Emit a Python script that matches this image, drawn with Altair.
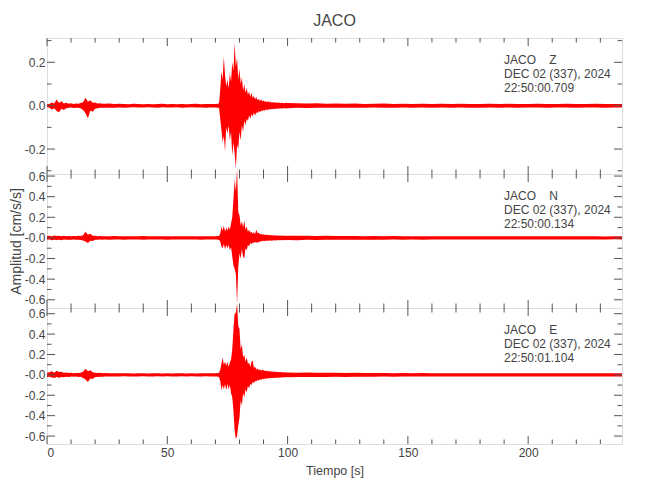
import altair as alt
import pandas as pd

# ---------------- data ----------------
T_QUIET = list(range(0, 24)) + list(range(24, 70, 2))   # 0..68 s
T_EVENT = [70 + 0.5 * i for i in range(60)]              # 70..99.5 s
T_TAIL = list(range(100, 240, 4)) + [239]                # 100..239 s
TIME = T_QUIET + T_EVENT + T_TAIL

# ---- Z component envelope (upper / lower), cm/s/s
Z_UP_Q = [0.006, 0.008, 0.015, 0.010, 0.028, 0.012, 0.020, 0.010, 0.014, 0.009,
          0.011, 0.008, 0.010, 0.009, 0.012, 0.016, 0.036, 0.018, 0.025, 0.013,
          0.015, 0.010, 0.011, 0.009,
          0.009, 0.010, 0.008, 0.009, 0.008, 0.007, 0.009, 0.008, 0.007, 0.008,
          0.007, 0.008, 0.009, 0.007, 0.008, 0.007, 0.008, 0.007, 0.008, 0.009,
          0.007, 0.008, 0.008]
Z_LO_Q = [-0.006, -0.009, -0.018, -0.012, -0.025, -0.030, -0.014, -0.020, -0.012, -0.010,
          -0.008, -0.011, -0.009, -0.010, -0.012, -0.020, -0.035, -0.058, -0.022, -0.028,
          -0.014, -0.012, -0.009, -0.010,
          -0.010, -0.009, -0.009, -0.008, -0.009, -0.008, -0.007, -0.008, -0.008, -0.007,
          -0.008, -0.009, -0.007, -0.008, -0.008, -0.007, -0.009, -0.008, -0.007, -0.008,
          -0.008, -0.009, -0.008]
Z_UP_E = [0.008, 0.009, 0.008, 0.012, 0.070, 0.160, 0.120, 0.225, 0.140, 0.090,
          0.120, 0.080, 0.150, 0.110, 0.200, 0.160, 0.290, 0.180, 0.220, 0.120,
          0.170, 0.100, 0.130, 0.070, 0.100, 0.060, 0.080, 0.050, 0.065, 0.040,
          0.060, 0.035, 0.045, 0.030, 0.040, 0.025, 0.032, 0.022, 0.028, 0.020,
          0.024, 0.018, 0.020, 0.016, 0.022, 0.015, 0.018, 0.014, 0.017, 0.013,
          0.016, 0.012, 0.015, 0.013, 0.012, 0.014, 0.012, 0.011, 0.013, 0.012]
Z_LO_E = [-0.008, -0.009, -0.008, -0.012, -0.060, -0.110, -0.170, -0.140, -0.210, -0.100,
          -0.130, -0.090, -0.160, -0.120, -0.230, -0.170, -0.220, -0.290, -0.180, -0.200,
          -0.120, -0.160, -0.090, -0.120, -0.070, -0.090, -0.060, -0.070, -0.045, -0.060,
          -0.040, -0.050, -0.032, -0.045, -0.030, -0.035, -0.025, -0.030, -0.022, -0.026,
          -0.020, -0.023, -0.017, -0.021, -0.016, -0.019, -0.015, -0.017, -0.014, -0.016,
          -0.013, -0.015, -0.012, -0.014, -0.013, -0.012, -0.014, -0.011, -0.012, -0.013]
Z_UP_T = [0.012, 0.011, 0.010, 0.011, 0.009, 0.010, 0.009, 0.010, 0.008, 0.009,
          0.010, 0.008, 0.009, 0.008, 0.009, 0.008, 0.009, 0.008, 0.009, 0.008,
          0.008, 0.009, 0.008, 0.009, 0.008, 0.008, 0.009, 0.008, 0.008, 0.009,
          0.008, 0.008, 0.009, 0.008, 0.008, 0.008]
Z_LO_T = [-0.012, -0.010, -0.011, -0.010, -0.010, -0.009, -0.010, -0.009, -0.009, -0.008,
          -0.009, -0.009, -0.008, -0.009, -0.008, -0.009, -0.008, -0.009, -0.008, -0.009,
          -0.009, -0.008, -0.009, -0.008, -0.009, -0.008, -0.008, -0.009, -0.008, -0.008,
          -0.009, -0.008, -0.008, -0.009, -0.008, -0.008]

# ---- N component envelope
N_UP_Q = [0.018, 0.022, 0.016, 0.024, 0.018, 0.021, 0.017, 0.020, 0.016, 0.019,
          0.017, 0.018, 0.016, 0.020, 0.018, 0.025, 0.060, 0.030, 0.040, 0.022,
          0.020, 0.017, 0.019, 0.016,
          0.017, 0.016, 0.018, 0.015, 0.016, 0.017, 0.015, 0.016, 0.018, 0.015,
          0.016, 0.015, 0.017, 0.015, 0.016, 0.015, 0.016, 0.017, 0.015, 0.016,
          0.015, 0.016, 0.017]
N_LO_Q = [-0.018, -0.016, -0.022, -0.018, -0.021, -0.017, -0.022, -0.016, -0.019, -0.017,
          -0.018, -0.016, -0.019, -0.017, -0.020, -0.025, -0.035, -0.050, -0.028, -0.030,
          -0.019, -0.018, -0.016, -0.018,
          -0.016, -0.017, -0.015, -0.016, -0.018, -0.015, -0.016, -0.015, -0.017, -0.016,
          -0.015, -0.016, -0.015, -0.017, -0.015, -0.016, -0.015, -0.016, -0.016, -0.015,
          -0.017, -0.015, -0.016]
N_UP_E = [0.016, 0.018, 0.015, 0.022, 0.040, 0.110, 0.070, 0.120, 0.060, 0.100,
          0.070, 0.110, 0.080, 0.140, 0.200, 0.380, 0.570, 0.450, 0.670, 0.250,
          0.220, 0.120, 0.160, 0.100, 0.170, 0.080, 0.110, 0.060, 0.080, 0.050,
          0.060, 0.040, 0.055, 0.038, 0.080, 0.045, 0.050, 0.035, 0.040, 0.030,
          0.035, 0.028, 0.032, 0.026, 0.030, 0.025, 0.029, 0.024, 0.027, 0.023,
          0.026, 0.022, 0.025, 0.021, 0.024, 0.022, 0.023, 0.020, 0.022, 0.021]
N_LO_E = [-0.016, -0.015, -0.019, -0.020, -0.035, -0.080, -0.100, -0.060, -0.110, -0.070,
          -0.100, -0.070, -0.120, -0.090, -0.180, -0.270, -0.300, -0.350, -0.640, -0.280,
          -0.150, -0.200, -0.110, -0.180, -0.200, -0.100, -0.120, -0.070, -0.080, -0.050,
          -0.060, -0.045, -0.050, -0.038, -0.050, -0.040, -0.045, -0.032, -0.036, -0.030,
          -0.028, -0.032, -0.026, -0.030, -0.025, -0.028, -0.024, -0.027, -0.023, -0.025,
          -0.022, -0.025, -0.021, -0.023, -0.022, -0.020, -0.023, -0.021, -0.020, -0.022]
N_UP_T = [0.022, 0.021, 0.020, 0.019, 0.020, 0.018, 0.019, 0.018, 0.017, 0.018,
          0.017, 0.018, 0.016, 0.017, 0.016, 0.017, 0.016, 0.015, 0.016, 0.017,
          0.015, 0.016, 0.015, 0.016, 0.015, 0.016, 0.015, 0.016, 0.015, 0.016,
          0.015, 0.016, 0.015, 0.014, 0.015, 0.015]
N_LO_T = [-0.021, -0.022, -0.019, -0.020, -0.018, -0.019, -0.018, -0.017, -0.018, -0.017,
          -0.018, -0.016, -0.017, -0.016, -0.017, -0.016, -0.015, -0.016, -0.016, -0.015,
          -0.016, -0.015, -0.016, -0.015, -0.016, -0.015, -0.016, -0.015, -0.015, -0.016,
          -0.015, -0.015, -0.016, -0.015, -0.014, -0.015]

# ---- E component envelope
E_UP_Q = [0.020, 0.025, 0.035, 0.022, 0.040, 0.028, 0.030, 0.020, 0.024, 0.018,
          0.020, 0.017, 0.019, 0.018, 0.022, 0.030, 0.060, 0.035, 0.045, 0.025,
          0.022, 0.019, 0.020, 0.017,
          0.018, 0.016, 0.017, 0.015, 0.016, 0.015, 0.014, 0.016, 0.015, 0.014,
          0.015, 0.016, 0.014, 0.015, 0.014, 0.015, 0.016, 0.014, 0.015, 0.014,
          0.015, 0.016, 0.015]
E_LO_Q = [-0.020, -0.018, -0.025, -0.030, -0.022, -0.028, -0.020, -0.024, -0.018, -0.020,
          -0.017, -0.019, -0.016, -0.020, -0.018, -0.030, -0.045, -0.070, -0.035, -0.040,
          -0.022, -0.020, -0.018, -0.019,
          -0.017, -0.016, -0.015, -0.016, -0.014, -0.015, -0.016, -0.015, -0.014, -0.015,
          -0.016, -0.014, -0.015, -0.014, -0.015, -0.016, -0.014, -0.015, -0.014, -0.015,
          -0.016, -0.014, -0.015]
E_UP_E = [0.015, 0.018, 0.016, 0.022, 0.050, 0.110, 0.170, 0.100, 0.130, 0.090,
          0.130, 0.080, 0.120, 0.150, 0.250, 0.450, 0.600, 0.610, 0.700, 0.480,
          0.450, 0.250, 0.300, 0.170, 0.200, 0.130, 0.170, 0.110, 0.120, 0.080,
          0.130, 0.140, 0.070, 0.080, 0.050, 0.065, 0.045, 0.055, 0.040, 0.050,
          0.045, 0.038, 0.042, 0.034, 0.040, 0.032, 0.036, 0.030, 0.034, 0.028,
          0.032, 0.027, 0.030, 0.026, 0.029, 0.025, 0.027, 0.024, 0.026, 0.023]
E_LO_E = [-0.015, -0.016, -0.018, -0.020, -0.060, -0.150, -0.100, -0.140, -0.090, -0.150,
          -0.090, -0.140, -0.100, -0.180, -0.220, -0.350, -0.550, -0.630, -0.600, -0.500,
          -0.420, -0.250, -0.300, -0.180, -0.220, -0.140, -0.170, -0.110, -0.130, -0.090,
          -0.100, -0.070, -0.080, -0.060, -0.065, -0.050, -0.055, -0.042, -0.050, -0.038,
          -0.042, -0.035, -0.038, -0.032, -0.036, -0.030, -0.034, -0.029, -0.032, -0.028,
          -0.029, -0.027, -0.028, -0.025, -0.027, -0.024, -0.026, -0.023, -0.024, -0.022]
E_UP_T = [0.024, 0.022, 0.023, 0.021, 0.020, 0.021, 0.019, 0.020, 0.018, 0.019,
          0.018, 0.017, 0.018, 0.017, 0.018, 0.016, 0.017, 0.016, 0.017, 0.016,
          0.016, 0.017, 0.016, 0.015, 0.016, 0.017, 0.016, 0.015, 0.016, 0.016,
          0.015, 0.016, 0.015, 0.016, 0.015, 0.016]
E_LO_T = [-0.023, -0.022, -0.021, -0.022, -0.020, -0.019, -0.020, -0.018, -0.019, -0.018,
          -0.017, -0.018, -0.017, -0.016, -0.017, -0.016, -0.017, -0.016, -0.015, -0.016,
          -0.017, -0.016, -0.015, -0.016, -0.016, -0.015, -0.016, -0.015, -0.016, -0.015,
          -0.016, -0.015, -0.016, -0.015, -0.016, -0.015]

Z_UP, Z_LO = Z_UP_Q + Z_UP_E + Z_UP_T, Z_LO_Q + Z_LO_E + Z_LO_T
N_UP, N_LO = N_UP_Q + N_UP_E + N_UP_T, N_LO_Q + N_LO_E + N_LO_T
E_UP, E_LO = E_UP_Q + E_UP_E + E_UP_T, E_LO_Q + E_LO_E + E_LO_T

NB = "\u00a0"
LABEL_Z = "JACO" + NB * 4 + "Z\nDEC 02 (337), 2024\n22:50:00.709"
LABEL_N = "JACO" + NB * 4 + "N\nDEC 02 (337), 2024\n22:50:00.134"
LABEL_E = "JACO" + NB * 4 + "E\nDEC 02 (337), 2024\n22:50:01.104"

X_MAJOR = [0, 50, 100, 150, 200]
X_MINOR = [10, 20, 30, 40, 60, 70, 80, 90, 110, 120, 130, 140, 160, 170, 180, 190, 210, 220, 230]
YZ_MAJOR = [-0.2, 0.0, 0.2]
YZ_MINOR = [-0.3, -0.1, 0.1, 0.3]
Y6_MAJOR = [-0.6, -0.4, -0.2, 0.0, 0.2, 0.4, 0.6]
Y6_MINOR = [-0.5, -0.3, -0.1, 0.1, 0.3, 0.5]

# ---------------- styling ----------------
FONT = "Liberation Sans"
TXT = "#444444"
TICK = "#555555"
W = 575
X_DOM = [0, 239]


def panel(up, lo, ydom, ymaj, ymin, height, label, zero_minus, show_x, ytitle):
    df = pd.DataFrame({"t": TIME, "up": up, "lo": lo})
    xs = alt.Scale(domain=X_DOM, nice=False, zero=False)
    ys = alt.Scale(domain=ydom, nice=False, zero=False)
    if zero_minus:
        lexpr = "datum.value <= 0 ? '-' + format(abs(datum.value), '.1f') : format(datum.value, '.1f')"
    else:
        lexpr = "datum.value < 0 ? '-' + format(abs(datum.value), '.1f') : format(datum.value, '.1f')"
    yaxis = alt.Axis(values=ymaj, labelExpr=lexpr, ticks=False, domain=False, grid=False,
                     labelPadding=2, labelFont=FONT, labelFontSize=12, labelColor=TXT,
                     titleFont=FONT, titleFontSize=14, titleFontWeight="normal",
                     titleColor=TXT, titlePadding=1)
    xaxis = alt.Axis(values=X_MAJOR, format="d", ticks=False, domain=False, grid=False,
                     labelPadding=3, labelFont=FONT, labelFontSize=12, labelColor=TXT,
                     titleFont=FONT, titleFontSize=12.5, titleFontWeight="normal",
                     titleColor=TXT, titlePadding=6)

    def xenc(field):
        if show_x:
            return alt.X(field, scale=xs, axis=xaxis, title="Tiempo [s]")
        return alt.X(field, scale=xs, axis=None)

    trace = alt.Chart(df).mark_area(color="#ff0000", interpolate="linear").encode(
        x=xenc("t:Q"),
        y=alt.Y("up:Q", scale=ys, axis=yaxis, title=ytitle),
        y2="lo:Q",
    )

    layers = [trace]

    def xticks(vals, ln):
        d = pd.DataFrame({"v": vals})
        top = alt.Chart(d).mark_rule(color=TICK, strokeWidth=1).encode(
            x=xenc("v:Q"), y=alt.value(0), y2=alt.value(ln))
        bot = alt.Chart(d).mark_rule(color=TICK, strokeWidth=1).encode(
            x=xenc("v:Q"), y=alt.value(height), y2=alt.value(height - ln))
        return [top, bot]

    def yticks(vals, ln):
        d = pd.DataFrame({"v": vals})
        left = alt.Chart(d).mark_rule(color=TICK, strokeWidth=1).encode(
            y=alt.Y("v:Q", scale=ys, axis=yaxis, title=ytitle),
            x=alt.value(0), x2=alt.value(ln))
        right = alt.Chart(d).mark_rule(color=TICK, strokeWidth=1).encode(
            y=alt.Y("v:Q", scale=ys, axis=yaxis, title=ytitle),
            x=alt.value(W), x2=alt.value(W - ln))
        return [left, right]

    layers += xticks(X_MAJOR, 8) + xticks(X_MINOR, 4.5)
    layers += yticks(ymaj, 8) + yticks(ymin, 4.5)

    text = alt.Chart(alt.Data(values=[{"s": label}])).mark_text(
        align="left", baseline="top", lineBreak="\n", lineHeight=14,
        font=FONT, fontSize=12, color=TXT,
    ).encode(x=alt.value(457), y=alt.value(17), text="s:N")
    layers.append(text)

    return alt.layer(*layers).properties(width=W, height=height)


top = panel(Z_UP, Z_LO, [-0.315, 0.312], YZ_MAJOR, YZ_MINOR, 136, LABEL_Z, False, False, None)
top = top.properties(title=alt.TitleParams("JACO", font=FONT, fontSize=16, fontWeight="normal",
                                           color=TXT, anchor="middle", frame="group", offset=9))
mid = panel(N_UP, N_LO, [-0.68, 0.62], Y6_MAJOR, Y6_MINOR, 134, LABEL_N, True, False,
            "Amplitud [cm/s/s]")
bot = panel(E_UP, E_LO, [-0.678, 0.656], Y6_MAJOR, Y6_MINOR, 136, LABEL_E, True, True, None)

chart = alt.vconcat(top, mid, bot, spacing=0, bounds="flush").properties(
    padding={"left": 0, "top": 4, "right": 5, "bottom": 5}
).configure_view(stroke="#9a9a9a", strokeWidth=1.6).configure(background="white")

chart.save("out.html", embed_options={"renderer": "svg", "actions": False})
